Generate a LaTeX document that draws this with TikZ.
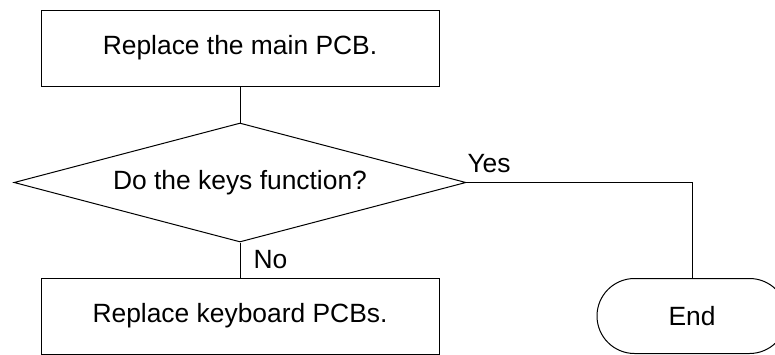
\documentclass[tikz,border=0pt]{standalone}
\usepackage{fontspec}
\setmainfont{Liberation Sans}
\usetikzlibrary{shapes.geometric,shapes.misc}

\tikzset{every picture/.style={line width=0.75pt}}
\tikzset{
  chartfont/.style={font=\fontsize{19.8pt}{24pt}\selectfont},
  procbox/.style={draw, rectangle, chartfont, inner sep=0pt, minimum width=298.5pt, minimum height=57pt},
  askbox/.style={draw, diamond, chartfont, inner sep=0pt, aspect=3.8, minimum width=339pt, minimum height=89.25pt},
  termbox/.style={draw, rounded rectangle, chartfont, inner sep=0pt, minimum width=142.5pt, minimum height=56.25pt},
  branchlbl/.style={chartfont, inner sep=0pt, anchor=base west}
}

\begin{document}
\begin{tikzpicture}[x=0.75pt,y=0.75pt,yscale=-1]
\useasboundingbox (0,0) rectangle (775,354);

% Process
\node (main) [procbox] at (240,48) {Replace the main PCB.};
% Decision
\node (keys) [askbox] at (240,182.5) {Do the keys function?};
% Process
\node (kbd) [procbox] at (240,316) {Replace keyboard PCBs.};
% Terminal
\node (end) [termbox] at (692,316) {End};

% Text Node
\node (lblNo) [branchlbl] at (253,268) {No};
% Text Node
\node (lblYes) [branchlbl] at (467,172) {Yes};

% Connectors
\draw (main) -- (keys);
\draw (keys) -- (kbd);
\draw (keys.east) -| (end.north);

\end{tikzpicture}
\end{document}
